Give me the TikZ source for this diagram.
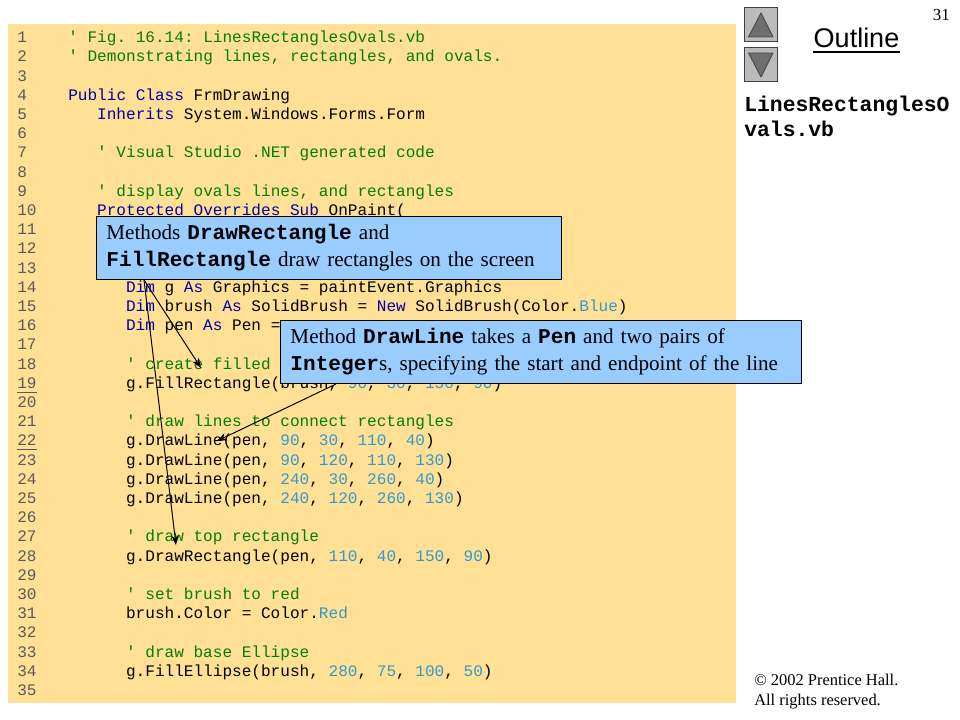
\documentclass[tikz,border=0pt]{standalone}
\usepackage{fontspec}
\setmainfont{Liberation Serif}
\setsansfont{Liberation Sans}
\setmonofont{Liberation Mono}
\definecolor{panelyellow}{RGB}{255, 224, 148}
\definecolor{noteblue}{RGB}{153, 204, 255}
\definecolor{kwblue}{RGB}{0, 0, 170}
\definecolor{cmgreen}{RGB}{0, 128, 0}
\definecolor{numblue}{RGB}{51, 153, 204}
\definecolor{numgray}{RGB}{90, 90, 90}
\definecolor{btngray}{RGB}{187, 187, 187}
\definecolor{trigray}{RGB}{110, 110, 110}
\usetikzlibrary{arrows.meta}
\newcommand{\kw}[1]{\textcolor{kwblue}{#1}}
\newcommand{\cm}[1]{\textcolor{cmgreen}{#1}}
\newcommand{\nm}[1]{\textcolor{numblue}{#1}}
\newcommand{\cb}[1]{\texttt{\textbf{#1}}}

\begin{document}
\begin{tikzpicture}[
  x=0.025cm, y=-0.025cm,
  code/.style={anchor=base west, inner sep=0pt, font=\fontsize{11.43}{13}\ttfamily},
  numlabel/.style={code, text=numgray, inner ysep=2.6pt},
  note/.style={draw=black, line width=0.7pt, fill=noteblue, anchor=north west, text width=#1, align=left,
    inner xsep=0.25cm, inner ysep=0pt, minimum height=1.575cm, font=\fontsize{15}{19.2}\selectfont},
  pointer/.style={line width=0.7pt, -{Stealth[length=2.5mm, width=1.9mm]}},
  navbtn/.style={draw=black!75, fill=btngray, line width=0.7pt, minimum size=0.825cm, inner sep=0pt},
  navtri/.style={draw=black!70, fill=trigray, line width=0.7pt, line join=round},
]
  \useasboundingbox (0,0) rectangle (960,720);
  \fill[panelyellow] (8,24) rectangle (736,703);

  \foreach \n in {1,...,35}
    \node[numlabel] (num\n) at (17,{42.7+19.2*(\n-1)}) {\n};
  \draw[numgray, line width=0.6pt] (num19.south west) -- (num19.south east);
  \draw[numgray, line width=0.6pt] (num22.south west) -- (num22.south east);

  \node[code] (line1) at (68,42.7) {\cm{' Fig. 16.14: LinesRectanglesOvals.vb}};
  \node[code] (line2) at (68,61.9) {\cm{' Demonstrating lines, rectangles, and ovals.}};
  \node[code] (line4) at (68,100.3) {\kw{Public Class} FrmDrawing};
  \node[code] (line5) at (96.9,119.5) {\kw{Inherits} System.Windows.Forms.Form};
  \node[code] (line7) at (96.9,157.9) {\cm{' Visual Studio .NET generated code}};
  \node[code] (line9) at (96.9,196.3) {\cm{' display ovals lines, and rectangles}};
  \node[code] (line10) at (96.9,215.5) {\kw{Protected Overrides Sub} OnPaint(};
  \node[code] (line14) at (125.8,292.3) {\kw{Dim} g \kw{As} Graphics = paintEvent.Graphics};
  \node[code] (line15) at (125.8,311.5) {\kw{Dim} brush \kw{As} SolidBrush = \kw{New} SolidBrush(Color.\nm{Blue})};
  \node[code] (line16) at (125.8,330.7) {\kw{Dim} pen \kw{As} Pen =};
  \node[code] (line18) at (125.8,369.1) {\cm{' create filled}};
  \node[code] (line19) at (125.8,388.3) {g.FillRectangle(brush, \nm{90}, \nm{30}, \nm{150}, \nm{90})};
  \node[code] (line21) at (125.8,426.7) {\cm{' draw lines to connect rectangles}};
  \node[code] (line22) at (125.8,445.9) {g.DrawLine(pen, \nm{90}, \nm{30}, \nm{110}, \nm{40})};
  \node[code] (line23) at (125.8,465.1) {g.DrawLine(pen, \nm{90}, \nm{120}, \nm{110}, \nm{130})};
  \node[code] (line24) at (125.8,484.3) {g.DrawLine(pen, \nm{240}, \nm{30}, \nm{260}, \nm{40})};
  \node[code] (line25) at (125.8,503.5) {g.DrawLine(pen, \nm{240}, \nm{120}, \nm{260}, \nm{130})};
  \node[code] (line27) at (125.8,541.9) {\cm{' draw top rectangle}};
  \node[code] (line28) at (125.8,561.1) {g.DrawRectangle(pen, \nm{110}, \nm{40}, \nm{150}, \nm{90})};
  \node[code] (line30) at (125.8,599.5) {\cm{' set brush to red}};
  \node[code] (line31) at (125.8,618.7) {brush.Color = Color.\nm{Red}};
  \node[code] (line33) at (125.8,657.1) {\cm{' draw base Ellipse}};
  \node[code] (line34) at (125.8,676.3) {g.FillEllipse(brush, \nm{280}, \nm{75}, \nm{100}, \nm{50})};

  \node[note=11.125cm] (rectnote) at (96,216) {
    Methods \cb{DrawRectangle} and\\
    \cb{FillRectangle} draw rectangles on the screen
  };
  \node[note=12.525cm] (linenote) at (280,320) {
    Method \cb{DrawLine} takes a \cb{Pen} and two pairs of\\
    \cb{Integer}s, specifying the start and endpoint of the line
  };

  \coordinate (filltip) at (201,368);
  \coordinate (drawtip) at (176,545);
  \coordinate (linetip) at (217,441);
  \draw[pointer] ([xshift=1.2cm]rectnote.south west) -- (filltip);
  \draw[pointer] ([xshift=1.2cm]rectnote.south west) -- (drawtip);
  \draw[pointer] ([xshift=1.4cm]linenote.south west) -- (linetip);

  \node[navbtn] (upbtn) at (760.5,24.5) {};
  \node[navbtn] (downbtn) at (760.5,64.5) {};
  \draw[navtri] (761,13) -- (773,37) -- (748.5,37) -- cycle;
  \draw[navtri] (748.5,53) -- (773,53) -- (761,77) -- cycle;

  \node[inner xsep=0pt, inner ysep=2.6pt, font=\fontsize{19.2}{22}\sffamily] (outline) at (856.5,38) {Outline};
  \draw[line width=1.4pt] (outline.south west) -- (outline.south east);

  \node[font=\fontsize{12}{14}\selectfont, anchor=base east, inner sep=0pt] (pagenum) at (950,21) {31};
  \node[font=\fontsize{15.2}{17.8}\ttfamily\bfseries, anchor=north west, align=left, inner sep=0pt] (filename) at (744,96) {LinesRectanglesO\\vals.vb};
  \node[font=\fontsize{11.7}{14.2}\selectfont, anchor=north west, align=left, inner sep=0pt] (rights) at (754,674) {\textcopyright{} 2002 Prentice Hall.\\All rights reserved.};
\end{tikzpicture}
\end{document}
